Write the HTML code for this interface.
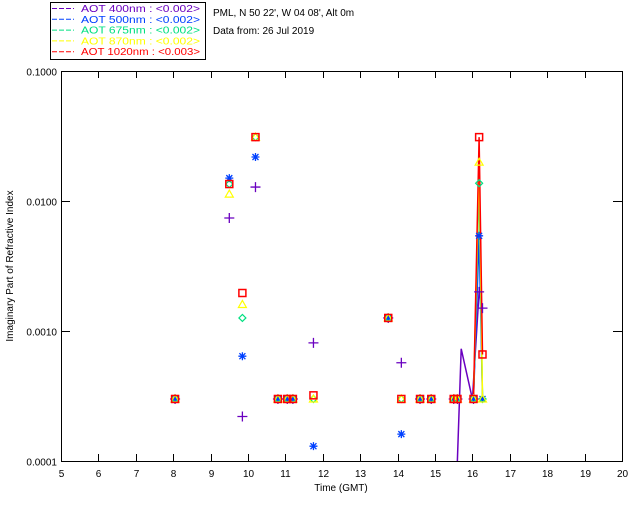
<!DOCTYPE html>
<html><head><meta charset="utf-8"><style>
body{margin:0;background:#fff;width:640px;height:512px;overflow:hidden;font-family:"Liberation Sans",sans-serif}
svg text{font-family:"Liberation Sans",sans-serif;font-size:10px}
</style></head><body>
<svg id="chart" width="640" height="512">
<g>
<rect x="50.5" y="2.5" width="155" height="57" fill="#fff" stroke="#000"/>
<g id="legendEntries"></g>
</g>
<text x="213" y="16">PML, N 50 22', W 04 08', Alt 0m</text>
<text x="213" y="34">Data from: 26 Jul 2019</text>
<g id="axes"></g>
<g id="marks"></g>
<text x="13" y="266" transform="rotate(-90 13 266)" text-anchor="middle">Imaginary Part of Refractive Index</text>
<text x="341" y="491" text-anchor="middle">Time (GMT)</text>
</svg>
<script>
const xTicks=[5,6,7,8,9,10,11,12,13,14,15,16,17,18,19,20];
const yTicks=[0.0001,0.001,0.01,0.1];
const yTickLabels=["0.0001","0.0010","0.0100","0.1000"];
const times=[8.05,9.5,9.85,10.2,10.8,11.05,11.2,11.75,13.75,14.1,14.6,14.9,15.5,15.6,16.03,16.18,16.27];
const v400=[0.0003,0.0074,0.00022,0.0128,0.0003,0.0003,0.0003,0.00081,0.00126,0.00057,0.0003,0.0003,0.0003,0.0003,0.0003,0.002,0.0015];
const v500=[0.0003,0.015,0.00064,0.0218,0.0003,0.0003,0.0003,0.00013,0.00126,0.000161,0.0003,0.0003,0.0003,0.0003,0.0003,0.0054,0.0003];
const v675=[0.0003,0.0135,0.00126,0.031,0.0003,0.0003,0.0003,0.0003,0.00126,0.0003,0.0003,0.0003,0.0003,0.0003,0.0003,0.0137,0.0003];
const v870=[0.0003,0.0113,0.0016,0.031,0.0003,0.0003,0.0003,0.0003,0.00126,0.0003,0.0003,0.0003,0.0003,0.0003,0.0003,0.0199,0.0003];
const v1020=[0.0003,0.0135,0.00196,0.031,0.0003,0.0003,0.0003,0.00032,0.00126,0.0003,0.0003,0.0003,0.0003,0.0003,0.0003,0.031,0.00066];
const lineTimes400=[15.55,15.7,16.0,16.18,16.27];
const lineVals400=[0.00004,0.00073,0.0003,0.002,0.0015];
const names=["AOT  400nm : <0.002>","AOT  500nm : <0.002>","AOT  675nm : <0.002>","AOT  870nm : <0.002>","AOT 1020nm : <0.003>"];
const colors=["#6a00c0","#0040ff","#00e080","#ffff00","#ff0000"];
const shapes=["plus","star","diamond","tri","square"];
const L=61,R=622,T=71,B=461;
const xs=t=>L+(t-5)*(R-L)/15;
const ys=v=>B-(Math.log10(v)+4)*(B-T)/3;
const NS="http://www.w3.org/2000/svg";
function mk(tag,attrs,parent){const e=document.createElementNS(NS,tag);for(const k in attrs)e.setAttribute(k,attrs[k]);parent.appendChild(e);return e;}
const axes=document.getElementById('axes'),marks=document.getElementById('marks'),leg=document.getElementById('legendEntries');
const frame=mk('rect',{x:L+.5,y:T+.5,width:R-L,height:B-T,fill:'none',stroke:'#000'},axes);


xTicks.forEach(t=>{const x=Math.round(xs(t))+.5;
 const g=mk('g',{},axes);
 
 
 mk('line',{x1:x,x2:x,y1:B,y2:B-7,stroke:'#000'},g);
 mk('line',{x1:x,x2:x,y1:T,y2:T+7,stroke:'#000'},g);
 const tx=mk('text',{x:x,y:B+16,'text-anchor':'middle'},g);tx.textContent=t;});
yTicks.forEach((v,i)=>{const y=Math.round(ys(v))+.5;
 const g=mk('g',{},axes);
 
 
 mk('line',{x1:L,x2:L+9,y1:y,y2:y,stroke:'#000'},g);
 mk('line',{x1:R,x2:R-9,y1:y,y2:y,stroke:'#000'},g);
 const tx=mk('text',{x:L-4,y:y+4,'text-anchor':'end'},g);tx.textContent=yTickLabels[i];});
const series=[v400,v500,v675,v870,v1020];
const clip=mk('clipPath',{id:'cp'},marks);mk('rect',{x:L,y:T,width:R-L,height:B-T},clip);
series.forEach((vals,s)=>{
 let tt,vv;
 if(s===0){tt=lineTimes400;vv=lineVals400;}else{tt=times.slice(14);vv=vals.slice(14);}
 const pts=tt.map((t,i)=>xs(t).toFixed(1)+','+ys(vv[i]).toFixed(1)).join(' ');
 const pl=mk('polyline',{points:pts,fill:'none',stroke:colors[s],'stroke-width':1.5,'clip-path':'url(#cp)'},marks);
 
 
});
function marker(shape,x,y,c,p){
 if(shape==='plus'){mk('path',{d:`M${x-5},${y}H${x+5}M${x},${y-5}V${y+5}`,stroke:c,fill:'none','stroke-width':1.3},p);}
 else if(shape==='star'){mk('path',{d:`M${x-4},${y}H${x+4}M${x},${y-4}V${y+4}M${x-3},${y-3}L${x+3},${y+3}M${x-3},${y+3}L${x+3},${y-3}`,stroke:c,fill:'none','stroke-width':1.3},p);}
 else if(shape==='diamond'){mk('path',{d:`M${x},${y-3.5}L${x+3.5},${y}L${x},${y+3.5}L${x-3.5},${y}Z`,stroke:c,fill:'none','stroke-width':1.2},p);}
 else if(shape==='tri'){mk('path',{d:`M${x},${y-4}L${x+4},${y+3}L${x-4},${y+3}Z`,stroke:c,fill:'none','stroke-width':1.2},p);}
 else {mk('rect',{x:x-3.5,y:y-3.5,width:7,height:7,stroke:c,fill:'none','stroke-width':1.5},p);}
}
series.forEach((vals,s)=>{
 vals.forEach((v,i)=>{
  const g=mk('g',{},marks);
  
  
  marker(shapes[s],xs(times[i]),ys(v),colors[s],g);
 });
});
names.forEach((n,i)=>{
 const y=12+i*10.8;
 const g=mk('g',{},leg);
 
 
 mk('line',{x1:52,x2:74,y1:y-3.5,y2:y-3.5,stroke:colors[i],'stroke-dasharray':'5,2'},g);
 const t=mk('text',{x:81,y:y,fill:colors[i],'xml:space':'preserve',textLength:119,lengthAdjust:'spacingAndGlyphs'},g);t.textContent=n;
});
</script>
</body></html>
